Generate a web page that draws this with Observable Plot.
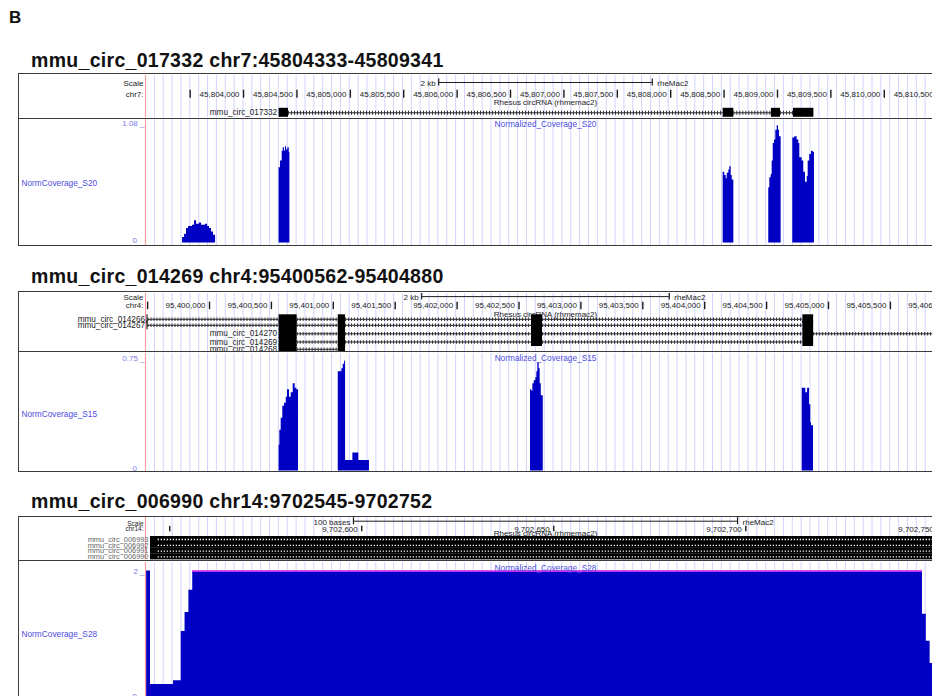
<!DOCTYPE html>
<html><head><meta charset="utf-8">
<script src="https://cdn.jsdelivr.net/npm/d3@7"></script>
<script src="https://cdn.jsdelivr.net/npm/@observablehq/plot@0.6"></script>
<style>
body{margin:0;background:#fff;}
#root{position:relative;width:932px;height:696px;overflow:hidden;background:#fff;font-family:"Liberation Sans",Arial,Helvetica,sans-serif;}
.title{position:absolute;left:31px;font-weight:bold;font-size:19.5px;line-height:19.5px;color:#111;white-space:nowrap;letter-spacing:0.3px;}
.fig{position:absolute;left:9px;top:9px;font-weight:bold;font-size:17px;line-height:17px;color:#111;}
.box{position:absolute;box-sizing:border-box;border:1.5px solid #3a3a3a;border-right:none;pointer-events:none;}
.sep{position:absolute;height:1.6px;background:#3a3a3a;pointer-events:none;}
.wrap{position:absolute;overflow:hidden;}
</style></head><body><div id="root"></div>
<script>
// ---------------- DATA ----------------
const figureLabel = "B";

// Panel 1
const p1Title = "mmu_circ_017332 chr7:45804333-45809341";
const p1Chrom = "chr7:";
const p1View = [45803082, 45810573];
const p1RulerStep = 500;
const p1ScaleBar = [2000, "2 kb"];
const p1Assembly = "rheMac2";
const p1Track = "Rhesus circRNA (rhmemac2)";
const p1Transcripts = [
  {name: "mmu_circ_017332", exons: [[45804333,45804421],[45808491,45808591],[45808943,45809028],[45809150,45809341]]}
];
const p1Signal = "NormCoverage_S20";
const p1SignalTitle = "Normalized_Coverage_S20";
const p1Max = 1.08;
const p1Coverage = [
  [45803429,0.05],[45803448,0.08],[45803466,0.13],[45803485,0.15],[45803522,0.16],[45803541,0.20],[45803560,0.17],
  [45803588,0.18],[45803607,0.16],[45803644,0.17],[45803663,0.15],[45803682,0.13],[45803700,0.10],[45803719,0.07],[45803738,0],
  [45804333,0.68],[45804346,0.74],[45804362,0.83],[45804372,0.86],[45804384,0.83],[45804393,0.87],[45804403,0.84],
  [45804415,0.86],[45804428,0.82],[45804434,0],
  [45808491,0.64],[45808506,0.61],[45808520,0.58],[45808529,0.63],[45808544,0.66],[45808553,0.69],[45808566,0.61],
  [45808576,0.57],[45808591,0],
  [45808918,0.50],[45808928,0.59],[45808941,0.62],[45808950,0.74],[45808960,0.90],[45808972,0.93],[45808984,1.02],
  [45808997,1.06],[45809009,1.02],[45809019,0.96],[45809034,0],
  [45809143,0.95],[45809162,0.96],[45809184,0.93],[45809199,0.90],[45809209,0.77],[45809231,0.74],[45809246,0.64],
  [45809262,0.55],[45809278,0.60],[45809287,0.74],[45809302,0.80],[45809318,0.83],[45809334,0.82],[45809346,0]
];

// Panel 2
const p2Title = "mmu_circ_014269 chr4:95400562-95404880";
const p2Chrom = "chr4:";
const p2View = [95399483, 95405945];
const p2RulerStep = 500;
const p2ScaleBar = [2000, "2 kb"];
const p2Assembly = "rheMac2";
const p2Track = "Rhesus circRNA (rhmemac2)";
const p2Transcripts = [
  {name: "mmu_circ_014266", exons: [[95399495,95399503],[95400562,95400708],[95401040,95401099],[95402601,95402690],[95404793,95404880]]},
  {name: "mmu_circ_014267", exons: [[95399495,95399503],[95400562,95400708],[95401040,95401099],[95402601,95402690],[95404793,95404880]]},
  {name: "mmu_circ_014270", exons: [[95400562,95400708],[95401040,95401099],[95402601,95402690],[95404793,95404880],[95406000,95406100]]},
  {name: "mmu_circ_014269", exons: [[95400562,95400708],[95401040,95401099],[95402601,95402690],[95404793,95404880]]},
  {name: "mmu_circ_014268", exons: [[95400562,95400708],[95401040,95401099]]}
];
const p2Signal = "NormCoverage_S15";
const p2SignalTitle = "Normalized_Coverage_S15";
const p2Max = 0.75;
const p2Coverage = [
  [95400562,0.17],[95400568,0.27],[95400579,0.35],[95400592,0.43],[95400606,0.45],[95400620,0.49],[95400630,0.54],
  [95400646,0.49],[95400660,0.52],[95400676,0.58],[95400692,0.55],[95400705,0.54],[95400719,0],
  [95401040,0.66],[95401069,0.68],[95401080,0.71],[95401091,0.73],[95401099,0.07],[95401158,0.12],[95401206,0.07],[95401292,0],
  [95402593,0.54],[95402604,0.53],[95402612,0.58],[95402623,0.60],[95402636,0.62],[95402644,0.66],[95402652,0.72],
  [95402663,0.68],[95402671,0.58],[95402680,0.50],[95402696,0],
  [95404788,0.55],[95404817,0.52],[95404831,0.55],[95404847,0.44],[95404857,0.32],[95404863,0.30],[95404879,0]
];

// Panel 3
const p3Title = "mmu_circ_006990 chr14:9702545-9702752";
const p3Chrom = "chr14:";
const p3View = [9702543.7, 9702752.0];
const p3RulerStep = 50;
const p3ScaleBar = [100, "100 bases"];
const p3Assembly = "rheMac2";
const p3Track = "Rhesus circRNA (rhmemac2)";
const p3Transcripts = [
  {name: "mmu_circ_006993", exons: [[9702545,9702752]]},
  {name: "mmu_circ_006992", exons: [[9702545,9702752]]},
  {name: "mmu_circ_006991", exons: [[9702545,9702752]]},
  {name: "mmu_circ_006990", exons: [[9702545,9702752]]}
];
const p3Signal = "NormCoverage_S28";
const p3SignalTitle = "Normalized_Coverage_S28";
const p3Max = 2;
const p3Coverage = [
  [9702544,2.0],[9702545,0.22],[9702551,0.28],[9702553,1.05],[9702554,1.35],[9702555,1.70],[9702556,2.5],
  [9702746,1.32],[9702747,0.90],[9702748,0.55],[9702749,0.45],[9702752,0]
];

// ---------------- STYLE / LAYOUT ----------------
const FONT = "'Liberation Sans', Arial, Helvetica, sans-serif";
const SVG_LEFT = 19, SVG_W = 926, ML = 126, GRID_PX = 8.86;
const COV_FILL = "#0000c4", GRID = "#d3d3ff", EDGE = "#ff9c9c", TXT = "#1c1c1c";
const COV_TXT = "#4d4ddf", TICK_TXT = "#7a7aee", CLIP = "#ff3cff";

const layout1 = {titleTop: 50.8, frameTop: 73.3, sepY: 118.3, bottom: 246.2,
  head: {top: 75.2, h: 42.3, scale: 8, bar: 7, barText: 7.6, ruler: 18.7, tickH: 8, track: 26.5, rows: [37.3], blockH: 9, hatch: 4, labelFs: 8, nameFs: 8.2, nameFill: "#222", arrows: false},
  cov: {top: 119.2, h: 126, mt: 4, mb: 2.5, titleDy: 0.8}};
const layout2 = {titleTop: 267, frameTop: 291, sepY: 351.7, bottom: 472.2,
  head: {top: 292.6, h: 58.3, scale: 3.6, bar: 3.1, barText: 3.8, ruler: 12.4, tickH: 7.5, track: 20.8, rows: [25.8, 31.8, 40.3, 48.5, 55.8], blockH: 9, hatch: 3.5, labelFs: 8, nameFs: 8.2, nameFill: "#222", arrows: false},
  cov: {top: 352.6, h: 118.6, mt: 4.8, mb: 1.2, titleDy: 0.3}};
const layout3 = {titleTop: 492, frameTop: 515.8, sepY: 560.6, bottom: 720,
  head: {top: 517.3, h: 42.5, scale: 6, bar: 3.7, barText: 5, ruler: 11.6, tickH: 5.5, track: 16, rows: [22, 27.8, 33.6, 39.4], blockH: 6, hatch: 0, labelFs: 6.5, nameFs: 7.4, nameFill: "#666", arrows: true},
  cov: {top: 561.5, h: 141, mt: 8.5, mb: 5, titleDy: -3}};

const root = document.getElementById("root");
const svgStyle = {fontFamily: FONT, fontSize: "8px", background: "transparent", maxWidth: "none", overflow: "visible"};

function addDiv(cls, css, text) {
  const d = document.createElement("div");
  d.className = cls; d.style.cssText = css;
  if (text != null) d.textContent = text;
  root.appendChild(d);
  return d;
}
function addPlot(svg, top, h) {
  const w = addDiv("wrap", `left:${SVG_LEFT}px;top:${top}px;width:${SVG_W}px;height:${h}px;`);
  w.appendChild(svg);
}

function drawPanel(P, L) {
  addDiv("title", `top:${L.titleTop}px;`, P.title);
  const [x0, x1] = P.view;
  const mid = (x0 + x1) / 2;
  const pxPerBp = (SVG_W - ML) / (x1 - x0);
  const grid = d3.range(1, 95).map(i => x0 + i * GRID_PX / pxPerBp);
  const H = L.head;

  const ticks = d3.range(Math.ceil(x0 / P.step) * P.step, x1 + P.step, P.step);
  const labeled = ticks.filter(t => (t - x0) * pxPerBp > 50);
  const bar = [mid - P.scaleBar[0] / 2, mid + P.scaleBar[0] / 2];
  const rows = P.transcripts.map((t, i) => ({name: t.name, exons: t.exons, y: H.rows[i], start: t.exons[0][0]}));
  const exons = rows.flatMap(r => r.exons.map(([a, b]) => ({x1: a, x2: b, y: r.y})));
  const introns = rows.flatMap(r => r.exons.slice(1).map((e, i) => ({x1: r.exons[i][1], x2: e[0], y: r.y})));
  const hb = H.blockH / 2;

  const headMarks = [
    Plot.ruleX(grid, {x: d => d, stroke: GRID, strokeWidth: 1}),
    Plot.ruleX([x0], {x: d => d, stroke: EDGE, strokeWidth: 1.2}),
    Plot.text(["Scale"], {frameAnchor: "left", y: () => H.scale, text: d => d, textAnchor: "end", dx: -2, fontSize: H.labelFs, fill: TXT}),
    Plot.text([P.chrom], {frameAnchor: "left", y: () => H.ruler, text: d => d, textAnchor: "end", dx: -2, fontSize: H.labelFs, fill: TXT}),
    Plot.ruleX(ticks, {x: d => d, y1: () => H.ruler - H.tickH / 2, y2: () => H.ruler + H.tickH / 2, stroke: TXT, strokeWidth: 1.4}),
    Plot.text(labeled, {x: d => d, y: () => H.ruler, text: d => d3.format(",")(d), textAnchor: "end", dx: -4, fontSize: 8, fill: TXT}),
    Plot.ruleY([bar], {x1: d => d[0], x2: d => d[1], y: () => H.bar, stroke: TXT, strokeWidth: 1}),
    Plot.ruleX(bar, {x: d => d, y1: () => H.bar - 3.5, y2: () => H.bar + 3.5, stroke: TXT, strokeWidth: 1.2}),
    Plot.text([P.scaleBar[1]], {x: () => bar[0], y: () => H.barText, text: d => d, textAnchor: "end", dx: -3, fontSize: 8, fill: TXT}),
    Plot.text([P.assembly], {x: () => bar[1], y: () => H.barText, text: d => d, textAnchor: "start", dx: 5, fontSize: 8, fill: TXT}),
    Plot.text([P.track], {x: () => mid, y: () => H.track, text: d => d, fontSize: 8, fill: TXT}),
    Plot.ruleY(introns, {x1: "x1", x2: "x2", y: "y", stroke: "#222", strokeWidth: 1})
  ];
  if (H.hatch > 0) headMarks.push(Plot.ruleY(introns, {x1: "x1", x2: "x2", y: "y", stroke: "#333", strokeWidth: H.hatch, strokeDasharray: "1,2"}));
  headMarks.push(Plot.rect(exons, {x1: "x1", x2: "x2", y1: d => d.y - hb, y2: d => d.y + hb, fill: "#000"}));
  if (H.arrows) headMarks.push(Plot.ruleY(exons, {x1: d => Math.max(d.x1, x0) + 2, x2: "x2", y: "y", stroke: "#fff", strokeWidth: 1.3, strokeDasharray: "1.3,1.7"}));
  headMarks.push(Plot.text(rows, {x: d => Math.max(d.start, x0), y: "y", text: "name", textAnchor: "end", dx: -2, fontSize: H.nameFs, fill: H.nameFill}));

  const head = Plot.plot({
    width: SVG_W, height: H.h, marginLeft: ML, marginRight: 0, marginTop: 0, marginBottom: 0,
    x: {domain: P.view, axis: null},
    y: {domain: [H.h, 0], axis: null},
    style: svgStyle,
    marks: headMarks
  });
  addPlot(head, H.top, H.h);

  // coverage
  const C = L.cov;
  const plotH = C.h - C.mt - C.mb;
  const yTop = P.max * (plotH + C.mt) / plotH;
  const yBot = -P.max * C.mb / plotH;
  const cov = P.coverage.map(([x, v]) => ({x, v}));
  const clipped = cov.slice(0, -1).map((d, i) => ({x1: d.x, x2: cov[i + 1].x, v: d.v})).filter(r => r.v > P.max);
  const covPlot = Plot.plot({
    width: SVG_W, height: C.h, marginLeft: ML, marginRight: 0, marginTop: C.mt, marginBottom: C.mb,
    x: {domain: P.view, axis: null},
    y: {domain: [0, P.max], axis: null},
    style: svgStyle,
    marks: [
      Plot.ruleX(grid, {x: d => d, y1: () => yBot, y2: () => yTop, stroke: GRID, strokeWidth: 1}),
      Plot.ruleX([x0], {x: d => d, y1: () => yBot, y2: () => yTop, stroke: EDGE, strokeWidth: 1.2}),
      Plot.areaY(cov, {x: "x", y: d => Math.min(d.v, P.max), curve: "step-after", fill: COV_FILL}),
      Plot.ruleY(clipped, {x1: "x1", x2: "x2", y: () => P.max, stroke: CLIP, strokeWidth: 1.5}),
      Plot.text([P.max], {frameAnchor: "left", y: d => d, text: d => `${d} _`, textAnchor: "end", dx: -1, fontSize: 8, fill: TICK_TXT}),
      Plot.text([0], {frameAnchor: "left", y: d => d, text: d => `${d}`, textAnchor: "end", dx: -8.5, lineAnchor: "bottom", fontSize: 8, fill: TICK_TXT}),
      Plot.text([P.signal], {frameAnchor: "left", text: d => d, textAnchor: "start", dx: -(ML - 2), fontSize: 8.3, fill: COV_TXT}),
      Plot.text([P.signalTitle], {x: () => mid, y: () => P.max, text: d => d, dy: C.titleDy, fontSize: 8.3, fill: COV_TXT})
    ]
  });
  addPlot(covPlot, C.top, C.h);

  // frame
  addDiv("box", `left:18px;top:${L.frameTop}px;width:940px;height:${L.bottom - L.frameTop}px;`);
  addDiv("sep", `left:18px;top:${L.sepY - 0.8}px;width:940px;`);
}

addDiv("fig", "", figureLabel);
drawPanel({title: p1Title, chrom: p1Chrom, view: p1View, step: p1RulerStep, scaleBar: p1ScaleBar, assembly: p1Assembly,
  track: p1Track, transcripts: p1Transcripts, signal: p1Signal, signalTitle: p1SignalTitle, max: p1Max, coverage: p1Coverage}, layout1);
drawPanel({title: p2Title, chrom: p2Chrom, view: p2View, step: p2RulerStep, scaleBar: p2ScaleBar, assembly: p2Assembly,
  track: p2Track, transcripts: p2Transcripts, signal: p2Signal, signalTitle: p2SignalTitle, max: p2Max, coverage: p2Coverage}, layout2);
drawPanel({title: p3Title, chrom: p3Chrom, view: p3View, step: p3RulerStep, scaleBar: p3ScaleBar, assembly: p3Assembly,
  track: p3Track, transcripts: p3Transcripts, signal: p3Signal, signalTitle: p3SignalTitle, max: p3Max, coverage: p3Coverage}, layout3);
</script></body></html>
